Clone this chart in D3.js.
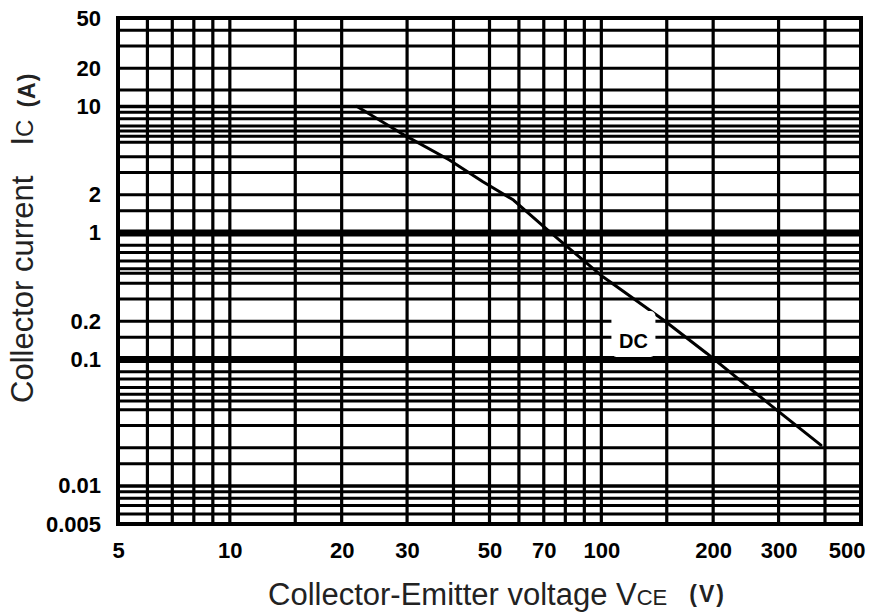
<!DOCTYPE html>
<html>
<head>
<meta charset="utf-8">
<script src="https://cdn.jsdelivr.net/npm/d3@7"></script>
<style>
  html, body { margin: 0; padding: 0; background: #fff; }
  svg { display: block; font-family: "Liberation Sans", Arial, sans-serif; }
</style>
</head>
<body>
<svg id="chart" width="871" height="614"></svg>
<script>
// ---- data ----
const xTickLabels = [5, 10, 20, 30, 50, 70, 100, 200, 300, 500];
const yTickLabels = [50, 20, 10, 2, 1, 0.2, 0.1, 0.01, 0.005];
const xGrid = [6, 7, 8, 9, 10, 15, 20, 30, 40, 50, 60, 70, 80, 90, 100, 150, 200, 300, 400];
const yGrid = [40, 30, 20, 13.5, 10, 9, 8, 7, 6.4, 5.8, 5.2, 4, 3, 2, 1.5,
               1, 0.8, 0.7, 0.6, 0.52, 0.48, 0.4, 0.3, 0.2, 0.15,
               0.1, 0.08, 0.07, 0.06, 0.053, 0.047, 0.04, 0.03, 0.02, 0.015,
               0.01, 0.009, 0.008, 0.007, 0.006];
const yThick = [1, 0.1];
const yMedium = [10, 0.01];
const dcVce = [22, 29, 39, 48, 58, 70, 77, 101, 147, 192, 290, 390];
const dcIc  = [10, 6.1, 3.77, 2.54, 1.82, 1.12, 0.88, 0.45, 0.205, 0.112, 0.042, 0.021];
const dcLabel = { text: "DC", vce: 122, ic: 0.14 };

// ---- layout ----
const W = 871, H = 614;
const L = 118, R = 861, T = 18, B = 524;
const svg = d3.select("#chart");

const x = d3.scaleLog().domain([5, 500]).range([L, R]);
const y = d3.scaleLog().domain([0.005, 50]).range([B, T]);

// grid
const g = svg.append("g");
g.selectAll("line.v").data(xGrid).join("line")
  .attr("x1", d => x(d)).attr("x2", d => x(d))
  .attr("y1", T).attr("y2", B)
  .attr("stroke", "#000").attr("stroke-width", 3.2);
g.selectAll("line.h").data(yGrid).join("line")
  .attr("x1", L).attr("x2", R)
  .attr("y1", d => y(d)).attr("y2", d => y(d))
  .attr("stroke", "#000")
  .attr("stroke-width", d => yThick.includes(d) ? 7 : (yMedium.includes(d) ? 3.5 : 3));

// frame
svg.append("rect")
  .attr("x", L).attr("y", T).attr("width", R - L).attr("height", B - T)
  .attr("fill", "none").attr("stroke", "#000").attr("stroke-width", 4);

// DC curve
const pts = dcVce.map((v, i) => [v, dcIc[i]]);
svg.append("path")
  .datum(pts)
  .attr("d", d3.line().x(d => x(d[0])).y(d => y(d[1])))
  .attr("fill", "none").attr("stroke", "#000").attr("stroke-width", 3)
  .attr("stroke-linejoin", "round").attr("stroke-linecap", "round");

// DC label
const lx = x(dcLabel.vce), ly = y(dcLabel.ic);
svg.append("rect")
  .attr("x", lx - 22).attr("y", ly - 30).attr("width", 44).attr("height", 46)
  .attr("rx", 5).attr("fill", "#fff");
svg.append("text")
  .attr("x", lx).attr("y", ly).attr("dy", "0.36em")
  .attr("text-anchor", "middle")
  .attr("font-size", 20).attr("font-weight", "bold")
  .text(dcLabel.text);

// axes (labels only)
const fmt = d3.format("~g");
const yAxis = svg.append("g").attr("transform", `translate(${L},0)`)
  .call(d3.axisLeft(y).tickValues(yTickLabels).tickFormat(fmt).tickSize(0).tickPadding(17));
const xAxis = svg.append("g").attr("transform", `translate(0,${B})`)
  .call(d3.axisBottom(x).tickValues(xTickLabels).tickFormat(fmt).tickSize(0).tickPadding(18));
[yAxis, xAxis].forEach(a => {
  a.select(".domain").remove();
  a.selectAll("text")
    .attr("font-size", 22).attr("font-weight", "bold")
    .attr("font-family", "'Liberation Sans', Arial, sans-serif")
    .attr("fill", "#000");
});
// keep last x label inside the picture
xAxis.selectAll(".tick").each(function (d) {
  const t = d3.select(this).select("text");
  const w = t.node().getBBox().width;
  const cx = x(d);
  const maxC = W - 6 - w / 2;
  if (cx > maxC) t.attr("x", maxC - cx);
});

// x title
const xt = svg.append("text")
  .attr("x", 268).attr("y", 605)
  .attr("fill", "#222");
xt.append("tspan").attr("font-size", 31).text("Collector-Emitter voltage V");
xt.append("tspan").attr("font-size", 22).text("CE");
xt.append("tspan").attr("font-size", 23).attr("font-weight", "bold")
  .attr("dx", 22).attr("dy", -3).attr("letter-spacing", 2).text("(V)");

// y title
const yt = svg.append("text")
  .attr("transform", "translate(33,403) rotate(-90)")
  .attr("fill", "#222");
yt.append("tspan").attr("font-size", 31).text("Collector current");
yt.append("tspan").attr("font-size", 31).attr("dx", 30).text("I");
yt.append("tspan").attr("font-size", 24).text("C");
yt.append("tspan").attr("font-size", 23).attr("font-weight", "bold")
  .attr("dx", 12).attr("dy", 2).attr("letter-spacing", 1).text("(A)");
</script>
</body>
</html>
